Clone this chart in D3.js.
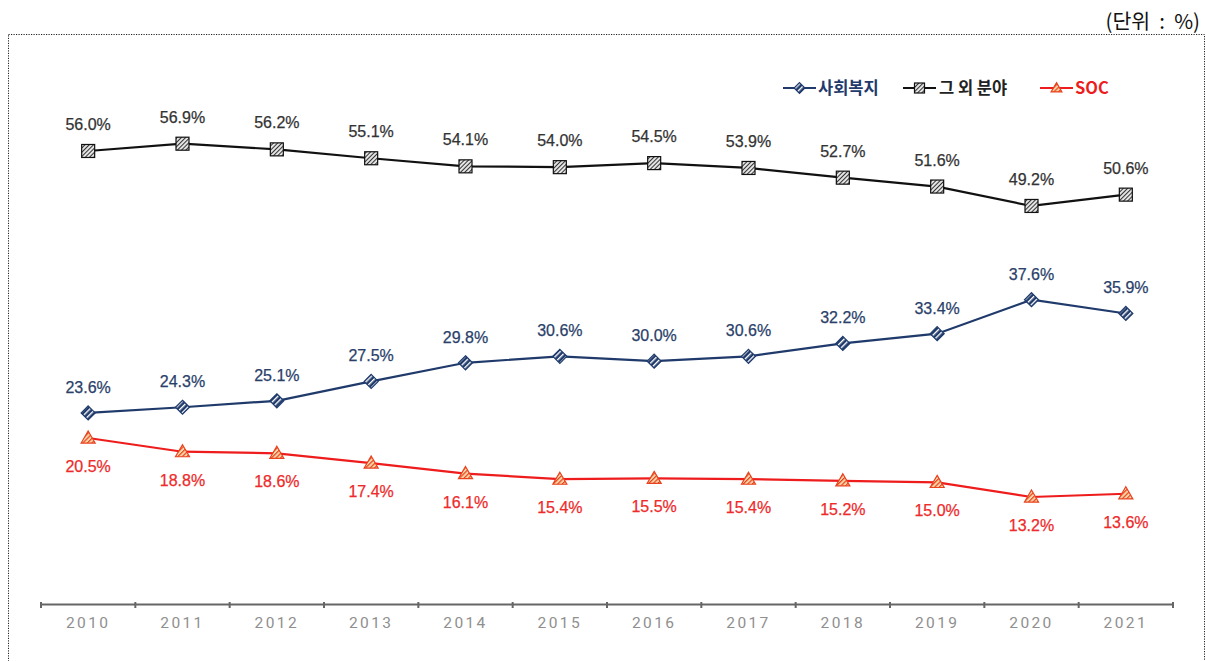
<!DOCTYPE html>
<html>
<head>
<meta charset="utf-8">
<script src="https://cdn.jsdelivr.net/npm/d3@7"></script>
<style>
  html, body { margin: 0; padding: 0; background: #fff; }
  svg { display: block; }
</style>
</head>
<body>
<script>
// Budget share by sector, 2010–2021 (%)
const years = ["2010","2011","2012","2013","2014","2015","2016","2017","2018","2019","2020","2021"];
const welfare = [23.6, 24.3, 25.1, 27.5, 29.8, 30.6, 30.0, 30.6, 32.2, 33.4, 37.6, 35.9];
const others  = [56.0, 56.9, 56.2, 55.1, 54.1, 54.0, 54.5, 53.9, 52.7, 51.6, 49.2, 50.6];
const soc     = [20.5, 18.8, 18.6, 17.4, 16.1, 15.4, 15.5, 15.4, 15.2, 15.0, 13.2, 13.6];
const seriesNames = ["사회복지", "그 외 분야", "SOC"];
const unitLabel = "(단위  :  %)";

const W = 1206, H = 661;
const svg = d3.select("body").append("svg").attr("width", W).attr("height", H);

const defs = svg.append("defs");
function hatch(id, bg, fg, size, width) {
  const p = defs.append("pattern").attr("id", id).attr("patternUnits", "userSpaceOnUse")
    .attr("width", size).attr("height", size).attr("patternTransform", "rotate(45)");
  p.append("rect").attr("width", size).attr("height", size).attr("fill", bg);
  p.append("rect").attr("width", width).attr("height", size).attr("fill", fg);
}
hatch("hatchGray", "#e4e4e4", "#333", 3, 1);
hatch("hatchBlue", "#1f3a6b", "#ffffff", 4, 1.4);
hatch("hatchRed", "#fbd7a8", "#e8421f", 3.2, 1.2);

// dotted frame
svg.append("rect").attr("x", 8.5).attr("y", 34.5).attr("width", 1196).attr("height", 640)
  .attr("fill", "none").attr("stroke", "#222").attr("stroke-width", 1).attr("stroke-dasharray", "1.2,1.3");

svg.append("text").attr("x", 1200).attr("y", 29).attr("text-anchor", "end")
  .style("white-space", "pre")
  .attr("font-family", "'Noto Sans CJK KR', sans-serif").attr("font-size", 20.5).attr("fill", "#111")
  .text(unitLabel);

const x = d3.scaleBand().domain(years).range([41, 1173]).padding(0);
const y = d3.scaleLinear().domain([0, 70]).range([603.7, 37.8]);

// x axis
const axis = svg.append("g").attr("transform", "translate(0,604)")
  .call(d3.axisBottom(x).tickSize(0).tickPadding(13));
axis.select(".domain").attr("stroke", "#666").attr("stroke-width", 2.2);
axis.selectAll("text").attr("font-family", "Roboto, sans-serif").attr("font-size", 15.5)
  .attr("fill", "#8f8f8f").attr("letter-spacing", "2.4px").attr("font-weight", 400);
const bounds = x.domain().map(d => x(d)).concat([x.range()[1]]);
axis.selectAll(".bound").data(bounds).enter().append("line").attr("class", "bound")
  .attr("x1", d => d).attr("x2", d => d).attr("y1", -2).attr("y2", 4)
  .attr("stroke", "#666").attr("stroke-width", 2);

const cx = d => x(d) + x.bandwidth() / 2;

const series = [
  { name: seriesNames[0], values: welfare, color: "#1f3a6b", label: "#2a3f6a", text: "#1f3a6b", fill: "url(#hatchBlue)", shape: "diamond", dy: -20 },
  { name: seriesNames[1], values: others, color: "#111", label: "#333", text: "#222", fill: "url(#hatchGray)", shape: "square", dy: -21 },
  { name: seriesNames[2], values: soc, color: "#ee1c1c", label: "#ee2a2a", text: "#ee1c1c", fill: "url(#hatchRed)", shape: "triangle", dy: 34 }
];

function marker(g, s, px, py, r) {
  if (s.shape === "square") {
    g.append("rect").attr("x", px - r).attr("y", py - r).attr("width", 2 * r).attr("height", 2 * r)
      .attr("fill", s.fill).attr("stroke", "#111").attr("stroke-width", 1.2);
  } else if (s.shape === "diamond") {
    const d = r * 1.08;
    g.append("path").attr("d", `M${px},${py - d}L${px + d},${py}L${px},${py + d}L${px - d},${py}Z`)
      .attr("fill", s.fill).attr("stroke", "#1f3a6b").attr("stroke-width", 1.2);
  } else {
    const d = r * 1.08;
    g.append("path").attr("d", `M${px},${py - d}L${px + d},${py + d * 0.72}L${px - d},${py + d * 0.72}Z`)
      .attr("fill", s.fill).attr("stroke", "#e8421f").attr("stroke-width", 1.2);
  }
}

const line = d3.line().x(d => cx(d[0])).y(d => y(d[1]));

series.forEach(s => {
  const pts = years.map((yr, i) => [yr, s.values[i]]);
  svg.append("path").datum(pts).attr("d", line).attr("fill", "none")
    .attr("stroke", s.color).attr("stroke-width", 2.2);
  const g = svg.append("g");
  pts.forEach(p => marker(g, s, cx(p[0]), y(p[1]), 6.5));
  svg.append("g").selectAll("text").data(pts).enter().append("text")
    .attr("x", d => cx(d[0])).attr("y", d => y(d[1]) + s.dy)
    .attr("text-anchor", "middle").attr("font-family", "'Liberation Sans', Arial, sans-serif")
    .attr("font-size", 16).attr("fill", s.label)
    .attr("stroke", s.label).attr("stroke-width", 0.25)
    .text(d => d[1].toFixed(1) + "%");
});

// legend
const legendItems = [
  { s: series[0], x0: 783, tx: 818 },
  { s: series[1], x0: 903, tx: 939 },
  { s: series[2], x0: 1040, tx: 1075 }
];
const ly = 88;
legendItems.forEach(it => {
  svg.append("line").attr("x1", it.x0).attr("x2", it.x0 + 33).attr("y1", ly).attr("y2", ly)
    .attr("stroke", it.s.color).attr("stroke-width", 2);
  marker(svg.append("g"), it.s, it.x0 + 16.5, ly, 5);
  svg.append("text").attr("x", it.tx).attr("y", ly + 6)
    .style("white-space", "pre")
    .attr("font-family", "'Noto Sans CJK KR', sans-serif").attr("font-weight", 700)
    .attr("font-size", 16.5).attr("fill", it.s.text)
    .text(it.s.name);
});
</script>
</body>
</html>
